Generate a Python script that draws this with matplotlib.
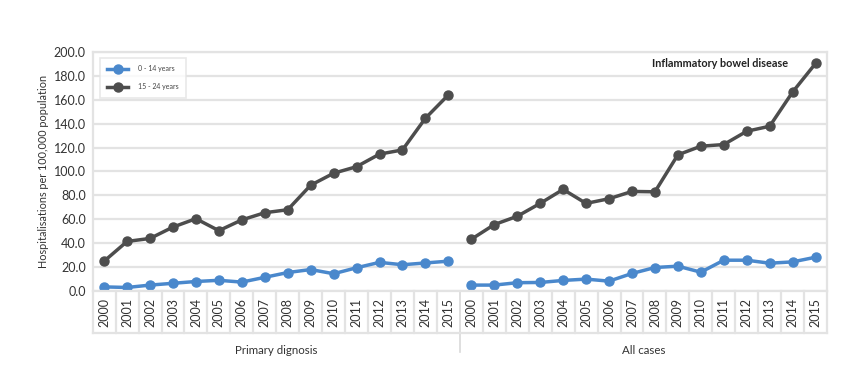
import matplotlib.pyplot as plt
import matplotlib.transforms as mtransforms

years = [str(y) for y in range(2000, 2016)]
groups = ["Primary dignosis", "All cases"]

primary_0_14 = [3.5, 3, 5, 6.5, 8, 9, 7.5, 11.5, 15.5, 18, 14.5, 19.5, 24, 22, 23.5, 25]
primary_15_24 = [25, 41.5, 44, 53.5, 60.5, 50.5, 59.5, 65.5, 68, 88.5, 98.5, 104, 114.5, 118, 144.5, 164]
all_0_14 = [5, 5, 7, 7.2, 8.9, 10, 8.3, 14.7, 19.7, 20.8, 15.8, 25.8, 25.8, 23.3, 24.4, 28.3]
all_15_24 = [43.3, 55.6, 62.5, 73.3, 85, 73.3, 77.2, 83.3, 83, 113.9, 121.1, 122.5, 133.6, 137.8, 166.4, 190.3]

plt.rcParams["font.family"] = ["Lato", "DejaVu Sans"]

blue = "#4a88cc"
dark = "#4d4d4d"
grid_c = "#e3e3e3"

fig = plt.figure(figsize=(8.5, 3.84), dpi=100)
ax = fig.add_axes([0.109, 0.242, 0.864, 0.623])

n = len(years)
x1 = list(range(n))
x2 = list(range(n, 2 * n))

ax.plot(x1, primary_0_14, color=blue, lw=2.5, marker="o", ms=6.5, label="0 - 14 years")
ax.plot(x1, primary_15_24, color=dark, lw=2.5, marker="o", ms=6.5, label="15 - 24 years")
ax.plot(x2, all_0_14, color=blue, lw=2.5, marker="o", ms=6.5)
ax.plot(x2, all_15_24, color=dark, lw=2.5, marker="o", ms=6.5)

ax.set_xlim(-0.5, 2 * n - 0.5)
ax.set_ylim(0, 200)
ax.set_yticks(range(0, 201, 20))
ax.set_yticklabels([f"{v:.1f}" for v in range(0, 201, 20)], fontsize=9, color="#333333")
ax.set_xticks([])
ax.tick_params(axis="y", length=0, pad=5)
ax.grid(axis="y", color=grid_c, lw=1.6)
ax.set_axisbelow(True)
for s in ax.spines.values():
    s.set_color(grid_c)
    s.set_linewidth(1.6)

ax.set_ylabel("Hospitalisations per 100,000 population", fontsize=7.8, color="#333333", labelpad=3)

# year cells under the axis
trans = mtransforms.blended_transform_factory(ax.transData, ax.transAxes)
cell_bottom = -0.176
for i in range(2 * n + 1):
    xb = i - 0.5
    if i == n:
        ax.plot([xb, xb], [0, -0.255], transform=trans, color="#d9d9d9", lw=1.2, clip_on=False)
    else:
        ax.plot([xb, xb], [0, cell_bottom], transform=trans, color=grid_c, lw=1.6, clip_on=False)
ax.plot([-0.5, 2 * n - 0.5], [cell_bottom, cell_bottom], transform=trans, color=grid_c, lw=1.6, clip_on=False)

for i, yr in enumerate(years + years):
    ax.text(i, cell_bottom / 2, yr, transform=trans, rotation=90, ha="center", va="center",
            fontsize=9, color="#333333")

ax.text((n - 1) / 2, -0.247, groups[0], transform=trans, ha="center", va="center", fontsize=8.3, color="#333333")
ax.text(n + (n - 1) / 2, -0.247, groups[1], transform=trans, ha="center", va="center", fontsize=8.3, color="#333333")

ax.text(0.947, 0.95, "Inflammatory bowel disease", transform=ax.transAxes, ha="right", va="center",
        fontsize=7.8, fontweight="bold", color="#222222")

leg = ax.legend(loc="upper left", bbox_to_anchor=(0.005, 0.99), fontsize=5, frameon=True,
                borderpad=1.1, labelspacing=1.6, handlelength=3.0, handletextpad=1.4, fancybox=False)
leg.get_frame().set_edgecolor(grid_c)
leg.get_frame().set_linewidth(1.2)
for t in leg.get_texts():
    t.set_color("#444444")

fig.savefig("out.png", dpi=100)
